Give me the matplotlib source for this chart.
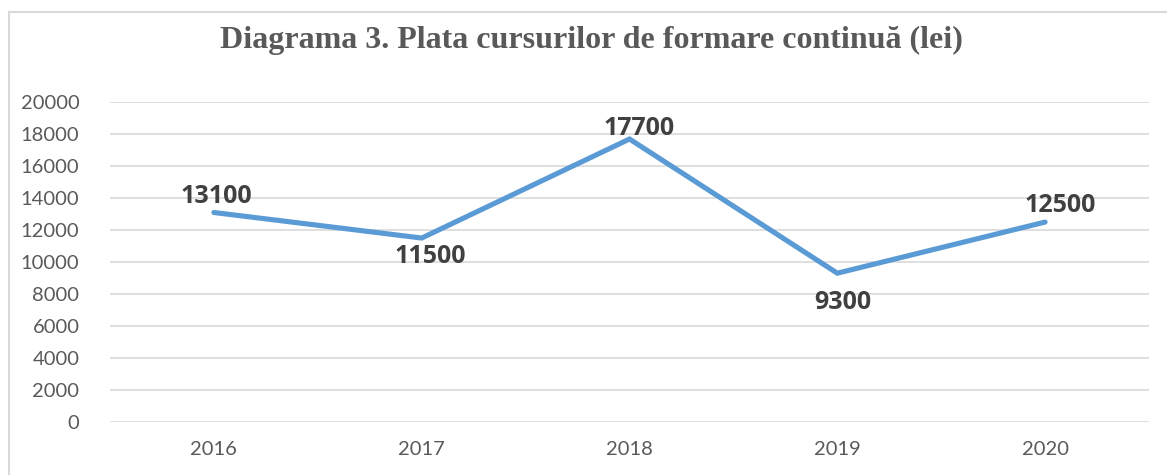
import matplotlib
matplotlib.use("Agg")
import matplotlib.pyplot as plt
from matplotlib.lines import Line2D

years = ["2016", "2017", "2018", "2019", "2020"]
values = [13100, 11500, 17700, 9300, 12500]
yticks = list(range(0, 20001, 2000))
title = "Diagrama 3. Plata cursurilor de formare continuă (lei)"

# label offsets from the point, in pixels (dx, dy; positive dy = up)
label_dx = [2, 9, 10, 6, 15]
label_dy = [16, -18, 11, -29, 17]

W, H = 1167, 475
fig = plt.figure(figsize=(W / 100, H / 100), dpi=100)
fig.patch.set_facecolor("white")

# outer frame (left and top borders)
fig.add_artist(Line2D([9 / W, 9 / W], [0, 1 - 12 / H], transform=fig.transFigure,
                      color="#D9D9D9", lw=1.5))
fig.add_artist(Line2D([9 / W, 1], [1 - 12 / H, 1 - 12 / H], transform=fig.transFigure,
                      color="#D9D9D9", lw=1.5))

left, right = 110, 1149
top, bottom = 102.3, 421.7
ax = fig.add_axes([left / W, 1 - bottom / H, (right - left) / W, (bottom - top) / H])

x = list(range(len(years)))
ax.plot(x, values, color="#5B9BD5", lw=3.7, solid_capstyle="round", solid_joinstyle="miter", zorder=3)

ax.set_xlim(-0.5, len(years) - 0.5)
ax.set_ylim(0, 20000)
ax.set_yticks(yticks)
ax.set_yticklabels([str(v) for v in yticks])
ax.set_xticks(x)
ax.set_xticklabels(years)
ax.grid(axis="y", color="#D9D9D9", lw=1.2, zorder=0)
ax.set_axisbelow(True)
for s in ax.spines.values():
    s.set_visible(False)
ax.tick_params(axis="both", length=0, labelsize=14.5, colors="#595959")
ax.tick_params(axis="y", pad=22)
ax.tick_params(axis="x", pad=14)
for lab in ax.get_xticklabels() + ax.get_yticklabels():
    lab.set_fontfamily("Lato")

for i, v in enumerate(values):
    ax.annotate(str(v), (i, v), xytext=(label_dx[i] * 0.72, label_dy[i] * 0.72),
                textcoords="offset points",
                ha="center", va="center", fontsize=18, fontweight="bold",
                color="#404040", family="Open Sans", zorder=4)

fig.text(0.507, 1 - 40 / H, title, ha="center", va="center", fontsize=23,
         fontweight="bold", color="#595959", family="Liberation Serif")

fig.savefig("out.png", dpi=100, facecolor="white")
